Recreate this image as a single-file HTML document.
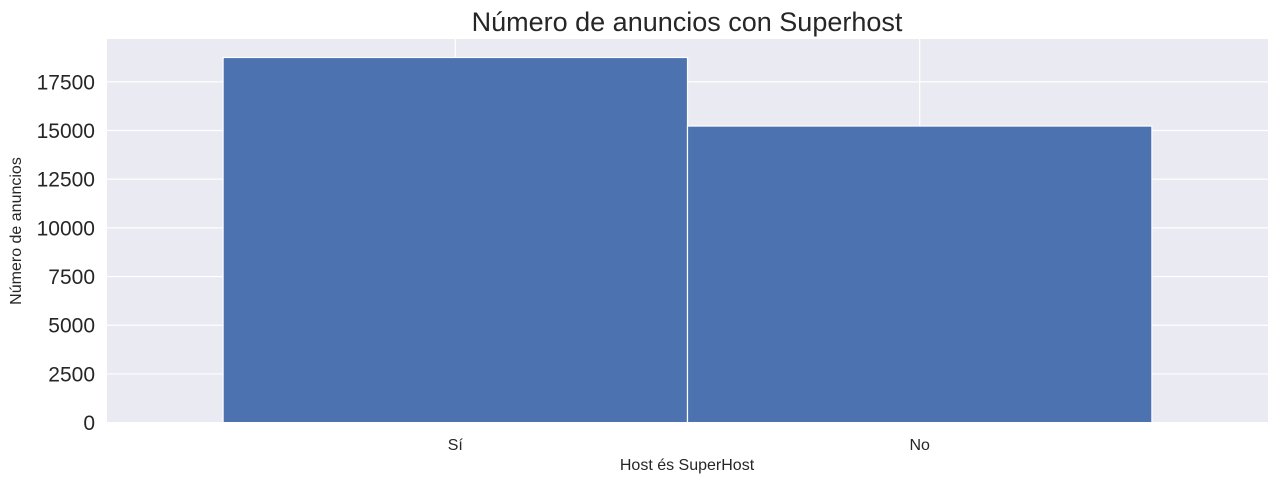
<!DOCTYPE html>
<html><head><meta charset="utf-8"><style>
body{margin:0;background:#fff;}
svg{display:block;font-family:"Liberation Sans","DejaVu Sans",sans-serif;}
</style></head><body>
<svg id="c" width="1278" height="482"></svg>
<script>
const categories=["Sí","No"];
const counts=[18750,15230];
const yTicks=[0,2500,5000,7500,10000,12500,15000,17500];
const NS="http://www.w3.org/2000/svg";
const svg=document.getElementById('c');
const L=107,R=1268,T=39,B=422.6;
const yMax=19700;
const xMin=-0.75,xMax=categories.length-0.25;
const xs=v=>L+(v-xMin)/(xMax-xMin)*(R-L);
const ys=v=>B-v/yMax*(B-T);
function mk(tag,attrs,parent){const e=document.createElementNS(NS,tag);for(const k in attrs)e.setAttribute(k,attrs[k]);(parent||svg).appendChild(e);return e;}
const bg=mk('rect',{x:L,y:T,width:R-L,height:B-T,fill:'#eaeaf2'});


yTicks.forEach(t=>{
  const g=mk('line',{x1:L,x2:R,y1:ys(t),y2:ys(t),stroke:'#fff','stroke-width':1.2});
  
  
  const tx=mk('text',{x:L-12,y:ys(t)+7.5,'text-anchor':'end','font-size':21,fill:'#262626'});
  tx.textContent=t;
  
  
});
categories.forEach((c,i)=>{
  const g=mk('line',{x1:xs(i),x2:xs(i),y1:T,y2:B,stroke:'#fff','stroke-width':1.2});
  
  
});
categories.forEach((c,i)=>{
  const r=mk('rect',{x:xs(i-0.5),y:ys(counts[i]),width:xs(i+0.5)-xs(i-0.5),height:B-ys(counts[i]),fill:'#4c72b0',stroke:'#fff','stroke-width':1.2});
  
  
  const tx=mk('text',{x:xs(i),y:450,'text-anchor':'middle','font-size':16,fill:'#262626'});
  tx.textContent=c;
  
  
});
</script>
<script>
(function(){
const svg=document.getElementById('c');
const NS="http://www.w3.org/2000/svg";
function t(x,y,s,txt,name,extra){const e=document.createElementNS(NS,'text');e.setAttribute('x',x);e.setAttribute('y',y);e.setAttribute('font-size',s);e.setAttribute('fill','#262626');e.setAttribute('text-anchor','middle');if(extra)e.setAttribute('transform',extra);e.textContent=txt;svg.appendChild(e);return e;}
const a=t(687,31,27,'Número de anuncios con Superhost');


const b=t(687,470,16,'Host és SuperHost');


const c=t(0,0,16,'Número de anuncios','','translate(21,231) rotate(-90)');


})();
</script>
</body></html>
